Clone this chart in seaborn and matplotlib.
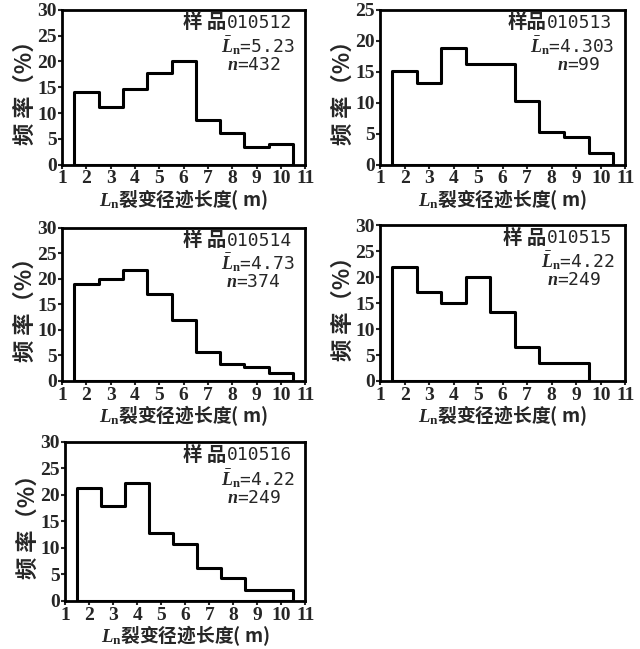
import numpy as np
import pandas as pd
import matplotlib
matplotlib.use("Agg")
import matplotlib.pyplot as plt
import seaborn as sns

# %% Data (frequency %, bins 1 m wide centred on 2..10 m).
bin_centres = [2, 3, 4, 5, 6, 7, 8, 9, 10]
samples = ['010512', '010513', '010514', '010515', '010516']
sample_words = ['样 品', '样品', '样 品', '样 品', '样 品']
mean_len = ['5.23', '4.303', '4.73', '4.22', '4.22']
counts = ['432', '99', '374', '249', '249']
freq_010512 = [14.0, 11.1, 14.6, 17.7, 20.0, 8.7, 6.2, 3.4, 4.0]
freq_010513 = [15.2, 13.2, 18.9, 16.3, 16.3, 10.3, 5.3, 4.5, 1.9]
freq_010514 = [19.0, 20.0, 21.7, 17.0, 12.0, 5.7, 3.3, 2.8, 1.5]
freq_010515 = [22.0, 17.2, 15.0, 20.0, 13.3, 6.5, 3.4, 3.4]
freq_010516 = [21.3, 18.0, 22.3, 12.8, 10.7, 6.3, 4.4, 2.0, 2.0]
freqs = [freq_010512, freq_010513, freq_010514, freq_010515, freq_010516]
y_max = [30, 25, 30, 30, 30]

# %% Style.
sns.set_style('ticks')
plt.rcParams['font.family'] = ['Noto Sans CJK SC', 'DejaVu Sans']
plt.rcParams['mathtext.fontset'] = 'custom'
plt.rcParams['mathtext.it'] = 'Liberation Serif:italic:bold'
plt.rcParams['mathtext.rm'] = 'Liberation Serif:bold'
plt.rcParams['mathtext.bf'] = 'Liberation Serif:bold'

# axes boxes [left, bottom, width, height] in figure fractions
boxes = [[0.097, 0.746, 0.380, 0.239],
         [0.594, 0.746, 0.383, 0.239],
         [0.097, 0.413, 0.380, 0.236],
         [0.594, 0.413, 0.383, 0.240],
         [0.102, 0.074, 0.375, 0.245]]

fig = plt.figure(figsize=(6.4, 6.49), dpi=100)
for k in range(5):
    ax = fig.add_axes(boxes[k])
    vals = freqs[k]
    df = pd.DataFrame({'len': bin_centres[:len(vals)], 'freq': vals})
    edges = [e + 0.5 for e in range(1, len(vals) + 2)]
    sns.histplot(data=df, x='len', weights='freq', bins=edges, element='step', fill=True,
                 facecolor='white', edgecolor='black', linewidth=2.2, alpha=1, ax=ax)
    ax.set_xlim(1, 11)
    ax.set_ylim(0, y_max[k])
    ax.set_xticks(range(1, 12))
    ax.set_yticks(range(0, y_max[k] + 1, 5))
    ax.tick_params(direction='out', length=3, width=1.5, pad=1)
    for lab in ax.get_xticklabels() + ax.get_yticklabels():
        lab.set_family('Liberation Serif')
        lab.set_fontweight('bold')
        lab.set_fontsize(14)
    for s in ax.spines.values():
        s.set_linewidth(2)
        s.set_color('black')
        s.set_visible(True)
    ax.set_ylabel('频 率（%）', family='Noto Sans CJK SC', fontweight='bold', fontsize=16, labelpad=0)
    ax.set_xlabel(r'$L_{\mathrm{n}}$裂变径迹长度( m)', family='Noto Sans CJK SC',
                  fontweight='bold', fontsize=13.5, labelpad=0)
    num = ax.text(0.945, 0.915, samples[k], transform=ax.transAxes, ha='right', va='center',
                  family='DejaVu Sans Mono', fontsize=13)
    ax.annotate(sample_words[k], xy=(0, 0.5), xycoords=num, ha='right', va='center',
                family='Noto Sans CJK SC', fontweight='bold', fontsize=14)
    ax.text(0.955, 0.77, r'$\bar{L}_{\mathrm{n}}$=' + mean_len[k], transform=ax.transAxes,
            ha='right', va='center', family='DejaVu Sans Mono', fontsize=13)
    ax.text(0.9, 0.645, r'$n$=' + counts[k], transform=ax.transAxes,
            ha='right', va='center', family='DejaVu Sans Mono', fontsize=13)

fig.savefig('out.png', dpi=100)
